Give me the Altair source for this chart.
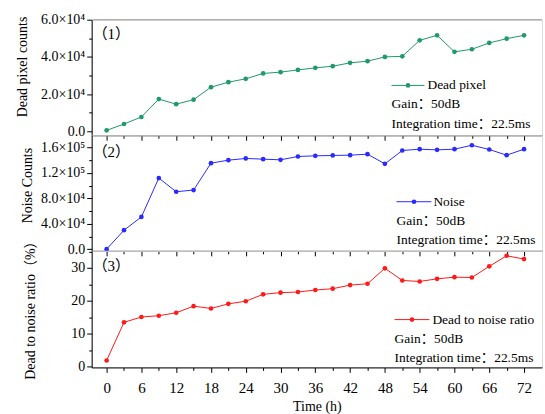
import altair as alt
import pandas as pd

# ---- data ----
time_h = list(range(0, 73, 3))
dead_pixel = [500, 3900, 7700, 17300, 14600, 17000, 23700, 26400, 28200, 31100,
              31800, 33000, 34100, 35000, 36800, 37700, 40000, 40300, 48900, 51600,
              42700, 44100, 47500, 49800, 51600]
noise = [0, 29800, 50700, 111900, 90400, 93000, 135400, 140100, 142800, 141700,
         140600, 145900, 146900, 147500, 148000, 149500, 134300, 155300, 157400, 156300,
         157400, 163600, 156900, 148000, 157400]
ratio = [1.9, 13.5, 15.1, 15.5, 16.4, 18.4, 17.7, 19.1, 19.9, 22.0,
         22.5, 22.7, 23.3, 23.7, 24.8, 25.2, 29.9, 26.2, 25.9, 26.7,
         27.2, 27.1, 30.5, 33.7, 32.7]

panel_tags = ["（1）", "（2）", "（3）"]
series_names = ["Dead pixel", "Noise", "Dead to noise ratio"]
y_titles = ["Dead pixel counts", "Noise Counts", "Dead to noise ratio（%）"]
gain_text = "Gain：50dB"
integ_text = "Integration time：22.5ms"
x_title = "Time (h)"

FONT = "Times New Roman, Liberation Serif, serif"
CJK = "Times New Roman, Liberation Serif, Noto Sans CJK SC, serif"
W = 452
HS = [116, 116, 117]


def panel(vals, color, ytitle, ydomain, yvals, major, label_expr, name, tag,
          h, leg, title_xy, tag_y, show_x, top_gray=False):
    df = pd.DataFrame({"t": time_h, "v": vals})
    xaxis = alt.Axis(
        values=list(range(0, 73, 3)),
        labels=show_x,
        labelExpr="datum.value % 6 === 0 ? datum.label : ''",
        tickSize={"condition": {"test": "datum.value % 6 === 0", "value": 5}, "value": 3},
        title=x_title if show_x else None,
        grid=False, domainColor="black", tickColor="black", labelColor="black",
        labelFont=FONT, labelFontSize=15, titleFont=FONT, titleFontSize=14,
        titleFontWeight=400, titleColor="black", labelPadding=8, titlePadding=4,
    )
    yaxis = alt.Axis(
        values=yvals,
        labelExpr=label_expr,
        tickSize={"condition": {"test": f"datum.value % {major} === 0", "value": 5}, "value": 3},
        title=ytitle, titleX=title_xy[0], titleY=title_xy[1], titleAngle=270,
        titleAlign="center", titleBaseline="middle",
        grid=False, domainColor="black", tickColor="black", labelColor="black",
        labelFont=FONT, labelFontSize=14, titleFont=CJK, titleFontSize=14,
        titleFontWeight=400, titleColor="black", labelPadding=2,
    )
    x = alt.X("t:Q", scale=alt.Scale(domain=[-2.58, 75.1], nice=False, zero=False), axis=xaxis)
    y = alt.Y("v:Q", scale=alt.Scale(domain=ydomain, nice=False, zero=False), axis=yaxis)
    base = alt.Chart(df)
    line = base.mark_line(color=color, strokeWidth=1).encode(x=x, y=y)
    pts = base.mark_circle(color=color, size=22, opacity=1).encode(x=x, y=y)

    one = alt.Data(values=[{}])
    lx1, lx2, ly, tx, gy, iy, gx = leg
    leg_line = alt.Chart(one).mark_rule(color=color, strokeWidth=1).encode(
        x=alt.value(lx1), x2=alt.value(lx2), y=alt.value(ly))
    leg_pt = alt.Chart(one).mark_circle(color=color, size=22, opacity=1).encode(
        x=alt.value((lx1 + lx2) / 2), y=alt.value(ly))
    txt = dict(font=CJK, fontSize=13.5, color="black", align="left", baseline="middle")
    leg_t = alt.Chart(one).mark_text(text=name, **txt).encode(x=alt.value(tx), y=alt.value(ly))
    gain_t = alt.Chart(one).mark_text(text=gain_text, **txt).encode(x=alt.value(gx), y=alt.value(gy))
    int_t = alt.Chart(one).mark_text(text=integ_text, **txt).encode(x=alt.value(gx), y=alt.value(iy))
    tag_t = alt.Chart(one).mark_text(text=tag, font=CJK, fontSize=15, color="black",
                                     align="left", baseline="middle").encode(
        x=alt.value(1), y=alt.value(tag_y))
    layers = [line, pts, leg_line, leg_pt, leg_t, gain_t, int_t, tag_t]
    if top_gray:
        layers.append(alt.Chart(one).mark_rule(color="#b0b0b0", strokeWidth=1.5).encode(
            x=alt.value(1), x2=alt.value(W), y=alt.value(0)))
    return alt.layer(*layers).properties(width=W, height=h)


p1 = panel(dead_pixel, "#1f9a6a", y_titles[0], [-2140, 60000],
           list(range(0, 60001, 10000)), 20000,
           "datum.value % 20000 !== 0 ? '' : (datum.value === 0 ? '0.0' : format(datum.value/1e4, '.1f') + '×10⁴')",
           series_names[0], panel_tags[0], HS[0],
           (301, 334, 66, 337, 85, 105, 301), (-69, 47), 14, False, True)
p2 = panel(noise, "#2a2aff", y_titles[1], [-2700, 179300],
           list(range(0, 160001, 20000)), 40000,
           "datum.value % 40000 !== 0 ? '' : (datum.value === 0 ? '0.0' : (datum.value < 1e5 ? format(datum.value/1e4, '.1f') + '×10⁴' : format(datum.value/1e5, '.1f') + '×10⁵'))",
           series_names[1], panel_tags[1], HS[1],
           (306, 341, 66.7, 343, 85.7, 105, 306), (-64, 50), 16.7, False)
p3 = panel(ratio, "#ff1a1a", y_titles[2], [-0.2, 35.2],
           list(range(0, 36, 5)), 10,
           "datum.value % 10 !== 0 ? '' : datum.label",
           series_names[2], panel_tags[2], HS[2],
           (304, 339, 69, 342, 88, 108, 304), (-61, 56), 15.7, True)

chart = alt.vconcat(p1, p2, p3, spacing=0, bounds="flush").properties(
    padding={"left": 15, "top": 11, "right": 1, "bottom": 0}
).configure_view(stroke="black", strokeWidth=1).configure(background="white")

chart.save("out.html", embed_options={"renderer": "svg", "actions": False})
